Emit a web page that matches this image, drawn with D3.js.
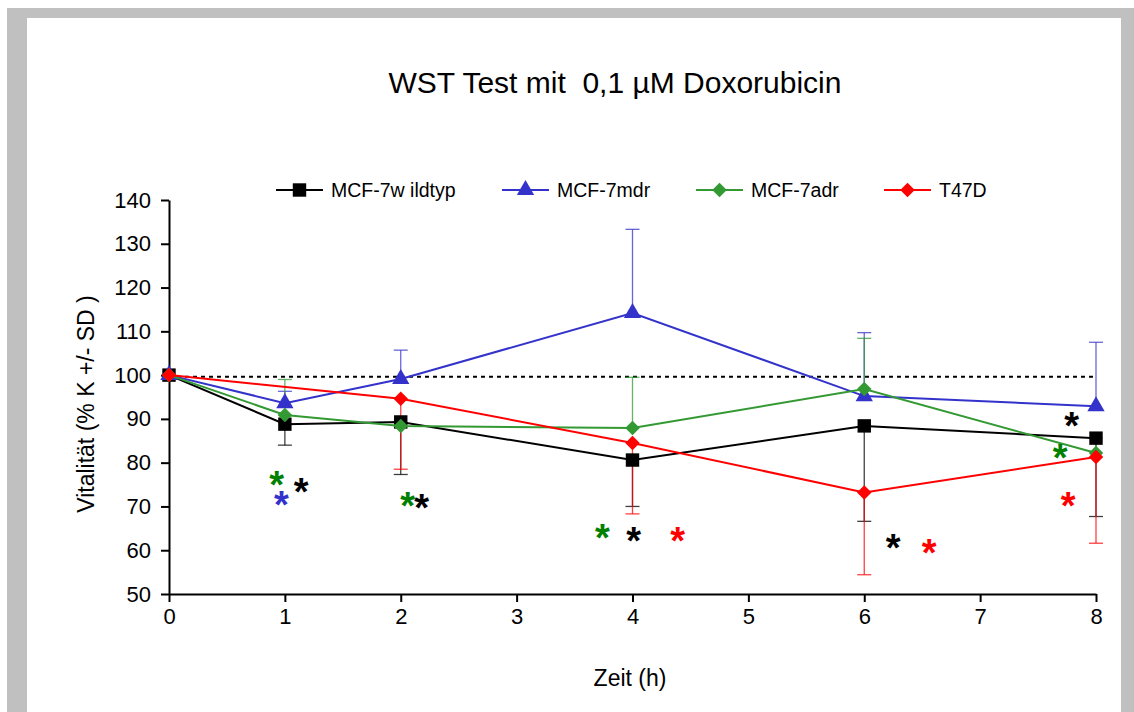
<!DOCTYPE html>
<html>
<head>
<meta charset="utf-8">
<script src="https://cdn.jsdelivr.net/npm/d3@7"></script>
<style>
  body { margin: 0; background: #fff; }
  text { font-family: "Liberation Sans", Arial, sans-serif; fill: #000; }
</style>
</head>
<body>
<script>
// data
let times = [0, 1, 2, 4, 6, 8];
let wildtyp = [100, 88.8, 89.3, 80.6, 88.4, 85.6];
let wildtypSD = [0, 4.8, 12.0, 10.6, 21.8, 17.9];
let mdr = [100, 93.6, 99.1, 114.2, 95.2, 92.9];
let mdrSD = [0, 2.7, 6.6, 19.1, 14.5, 14.6];
let adr = [100, 90.9, 88.4, 87.9, 96.8, 82.2];
let adrSD = [0, 8.1, 0, 11.6, 11.6, 3.5];
let t47dTimes = [0, 2, 4, 6, 8];
let t47d = [100, 94.6, 84.5, 73.2, 81.3];
let t47dSD = [0, 16.1, 16.2, 18.8, 19.7];

let xTicks = [0, 1, 2, 3, 4, 5, 6, 7, 8];
let yTicks = [50, 60, 70, 80, 90, 100, 110, 120, 130, 140];
let controlLevel = 99.6;

// significance stars: [time, value, series]
let stars = [
  [0.93, 76.7, "adr"], [1.14, 75.1, "wt"], [0.97, 72.1, "mdr"],
  [2.06, 71.9, "adr"], [2.18, 71.5, "wt"],
  [3.74, 64.6, "adr"], [4.01, 63.9, "wt"], [4.39, 63.9, "t47d"],
  [6.25, 62.3, "wt"], [6.56, 61.2, "t47d"],
  [7.79, 90.2, "wt"], [7.69, 82.9, "adr"], [7.76, 71.9, "t47d"]
];

let starColor = {wt: "#000000", mdr: "#3333cc", adr: "#008000", t47d: "#ff0000"};

let series = [
  {name: "MCF-7w ildtyp", key: "wt", t: times, v: wildtyp, sd: wildtypSD, dir: -1, color: "#000000", shape: "square"},
  {name: "MCF-7mdr", key: "mdr", t: times, v: mdr, sd: mdrSD, dir: 1, color: "#3333cc", shape: "triangle"},
  {name: "MCF-7adr", key: "adr", t: times, v: adr, sd: adrSD, dir: 1, color: "#339933", shape: "diamond"},
  {name: "T47D", key: "t47d", t: t47dTimes, v: t47d, sd: t47dSD, dir: -1, color: "#ff0000", shape: "diamond"}
];

let W = 1134, H = 712;
let svg = d3.select("body").append("svg")
  .attr("width", W).attr("height", H);

// grey frame around the white plot sheet
svg.append("rect").attr("x", 0).attr("y", 0).attr("width", W).attr("height", H).attr("fill", "#fff");
svg.append("path")
  .attr("d", "M7,8H1134V712H1121V18H27V712H7Z")
  .attr("fill", "#c0c0c0");

let x = d3.scaleLinear().domain([0, 8]).range([169, 1096]);
let y = d3.scaleLinear().domain([50, 140]).range([594, 200]);

// title
svg.append("text")
  .attr("x", 615).attr("y", 93)
  .attr("text-anchor", "middle")
  .style("font-size", "30px")
  .style("white-space", "pre")
  .text("WST Test mit  0,1 µM Doxorubicin");

// axes
let yAxis = svg.append("g")
  .attr("transform", "translate(" + x(0) + ",0)")
  .call(d3.axisLeft(y).tickValues(yTicks).tickSize(8).tickPadding(10).tickSizeOuter(0));
let xAxis = svg.append("g")
  .attr("transform", "translate(0," + y(50) + ")")
  .call(d3.axisBottom(x).tickValues(xTicks).tickSize(8).tickPadding(6).tickSizeOuter(0));
[xAxis, yAxis].forEach(function(a) {
  a.select(".domain").attr("stroke", "#000").attr("stroke-width", 2);
  a.selectAll(".tick line").attr("stroke", "#000").attr("stroke-width", 2);
  a.selectAll("text").style("font-size", "22px").attr("fill", "#000")
    .style("font-family", "Liberation Sans, Arial, sans-serif");
});

svg.append("text")
  .attr("transform", "translate(94,404) rotate(-90)")
  .attr("text-anchor", "middle")
  .style("font-size", "23px")
  .text("Vitalität (% K +/- SD )");
svg.append("text")
  .attr("x", 630).attr("y", 686)
  .attr("text-anchor", "middle")
  .style("font-size", "23px")
  .text("Zeit (h)");

// control line at 100 %
svg.append("line")
  .attr("x1", x(0)).attr("x2", x(8))
  .attr("y1", y(controlLevel)).attr("y2", y(controlLevel))
  .attr("stroke", "#000").attr("stroke-width", 2)
  .attr("stroke-dasharray", "4,4");

let symbols = {
  square: d3.symbol().type(d3.symbolSquare).size(180),
  triangle: d3.symbol().type(d3.symbolTriangle).size(130),
  diamond: d3.symbol().type(d3.symbolSquare).size(105)
};
let rot = {square: 0, triangle: 0, diamond: 45};

// error bars first
series.forEach(function(s) {
  let g = svg.append("g").attr("stroke", s.color).attr("stroke-width", 1.3).attr("stroke-opacity", 0.75);
  s.t.forEach(function(t, i) {
    if (!s.sd[i]) return;
    let y0 = y(s.v[i]), y1 = y(s.v[i] + s.dir * s.sd[i]);
    g.append("line").attr("x1", x(t)).attr("x2", x(t)).attr("y1", y0).attr("y2", y1);
    g.append("line").attr("x1", x(t) - 7).attr("x2", x(t) + 7).attr("y1", y1).attr("y2", y1);
  });
});

let line = d3.line()
  .x(function(d) { return x(d[0]); })
  .y(function(d) { return y(d[1]); });

series.forEach(function(s) {
  let pts = s.t.map(function(t, i) { return [t, s.v[i]]; });
  svg.append("path")
    .datum(pts)
    .attr("fill", "none")
    .attr("stroke", s.color)
    .attr("stroke-width", 2)
    .attr("d", line);
  svg.append("g").selectAll("path")
    .data(pts).enter().append("path")
    .attr("transform", function(d) { return "translate(" + x(d[0]) + "," + y(d[1]) + ") rotate(" + rot[s.shape] + ")"; })
    .attr("d", symbols[s.shape])
    .attr("fill", s.color);
});

// stars
let starSize = 38;
svg.append("g").selectAll("text")
  .data(stars).enter().append("text")
  .attr("x", function(d) { return x(d[0]); })
  .attr("y", function(d) { return y(d[1]) + starSize * 0.55; })
  .attr("text-anchor", "middle")
  .style("font-size", starSize + "px")
  .style("font-weight", "bold")
  .style("fill", function(d) { return starColor[d[2]]; })
  .text("*");

// legend
let legX = [276, 502, 696, 884];
let legY = 190;
series.forEach(function(s, i) {
  let g = svg.append("g").attr("transform", "translate(" + legX[i] + "," + legY + ")");
  g.append("line").attr("x1", 0).attr("x2", 47).attr("stroke", s.color).attr("stroke-width", 2);
  g.append("path").attr("transform", "translate(23.5,0) rotate(" + rot[s.shape] + ")").attr("d", symbols[s.shape]).attr("fill", s.color);
  g.append("text").attr("x", 55).attr("y", 7).style("font-size", "19.5px").style("white-space", "pre").text(s.name);
});
</script>
</body>
</html>
